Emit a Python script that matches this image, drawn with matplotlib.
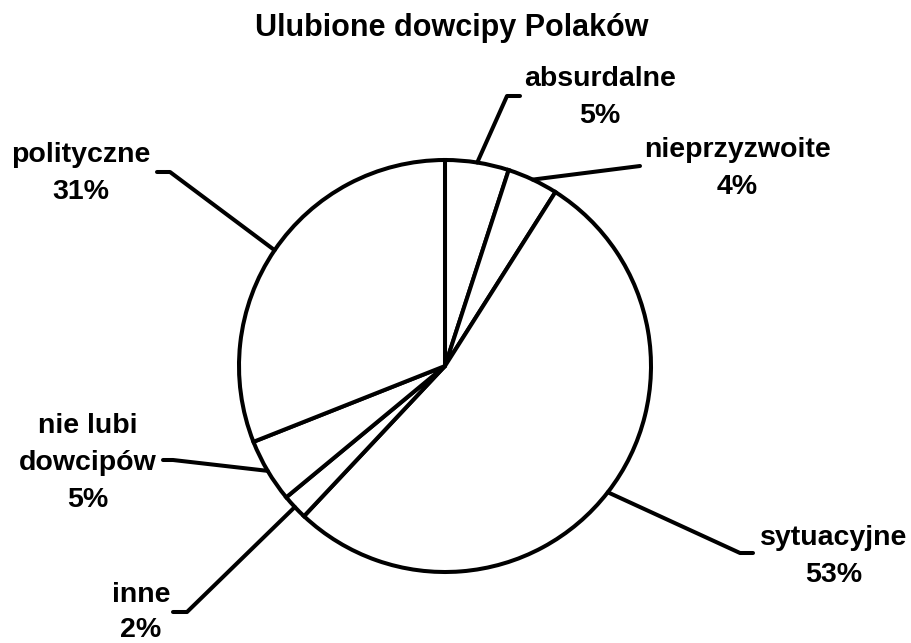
import numpy as np
import matplotlib
matplotlib.use("Agg")
import matplotlib.pyplot as plt

# ---- data ----
title = "Ulubione dowcipy Polaków"
categories = ["absurdalne", "nieprzyzwoite", "sytuacyjne", "inne", "nie lubi\ndowcipów", "polityczne"]
values = [5, 4, 53, 2, 5, 31]

# ---- layout (pixel coordinates, y downward) ----
W, H = 911, 643
cx, cy, R = 445, 366, 206
# elbow point of the leader line, end of horizontal stub
elbows = [(507, 96), (640, 166), (740, 553), (187, 612), (173, 460), (170, 172)]
stubs = [(520, 96), (640, 166), (753, 553), (173, 612), (163, 460), (157, 172)]
# text centre x and baseline of first line
text_pos = [(600, 86), (737, 157), (834, 545), (141, 602), (88, 433), (81, 162)]
line_steps = [37, 37, 37, 35, 37, 37]

plt.rcParams['font.family'] = ['Liberation Sans', 'DejaVu Sans']
fig = plt.figure(figsize=(W / 100, H / 100), dpi=100)
ax = fig.add_axes([0, 0, 1, 1])

lw = 2.9
ax.pie(values, startangle=-90, counterclock=True, center=(cx, cy), radius=R,
       colors=['white'] * len(values),
       wedgeprops=dict(edgecolor='black', linewidth=lw), frame=True)
ax.set_xlim(0, W)
ax.set_ylim(H, 0)
ax.set_aspect('equal')
ax.axis('off')

total = sum(values)
cum = np.cumsum([0] + values)
for i, (cat, v) in enumerate(zip(categories, values)):
    mid = (cum[i] + cum[i + 1]) / 2 / total
    ang = np.deg2rad(-90 + 360 * mid)
    px, py = cx + R * np.cos(ang), cy + R * np.sin(ang)
    ex, ey = elbows[i]
    sx, sy = stubs[i]
    ax.plot([px, ex, sx], [py, ey, sy], color='black', lw=lw,
            solid_capstyle='round', solid_joinstyle='round')
    lines = cat.split("\n") + [f"{v}%"]
    tx, ty = text_pos[i]
    for k, ln in enumerate(lines):
        ax.text(tx, ty + k * line_steps[i], ln, ha='center', va='baseline',
                fontsize=20.5, fontweight='bold', color='black')

ax.text(452, 36, title, ha='center', va='baseline', fontsize=22,
        fontweight='bold', color='black')

fig.savefig("out.png", dpi=100, facecolor='white')
